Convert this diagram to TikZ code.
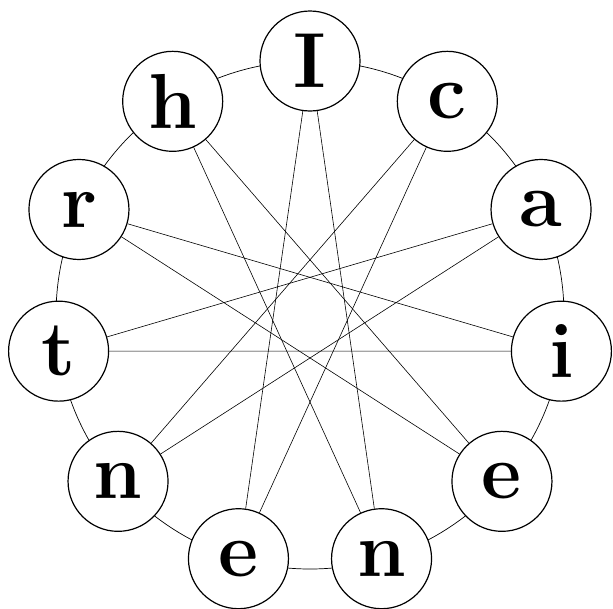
\documentclass[tikz,border=0pt]{standalone}
\usetikzlibrary{calc}
\begin{document}
\begin{tikzpicture}[x=1pt,y=-1pt,
  letter/.style={circle,draw,line width=1.2pt,fill=white,minimum size=100pt,inner sep=0pt,
    font=\fontsize{78}{80}\selectfont\bfseries},
  chord/.style={line width=0.6pt},
  rim/.style={line width=0.7pt}]
\useasboundingbox (0,0) rectangle (613,608);
\coordinate (ctr) at (310,315);
\draw[rim] (ctr) circle[radius=254];
\foreach \l [count=\i from 0] in {I,c,a,i,e,n,e,n,t,r,h}{
  \node[letter] (v\i) at ({310+254*sin(\i*360/11)},{315-254*cos(\i*360/11)}) {\l};
}
\foreach \i in {0,...,10}{
  \pgfmathtruncatemacro{\j}{mod(\i+5,11)}
  \draw[chord] (v\i) -- (v\j);
}
\end{tikzpicture}
\end{document}
